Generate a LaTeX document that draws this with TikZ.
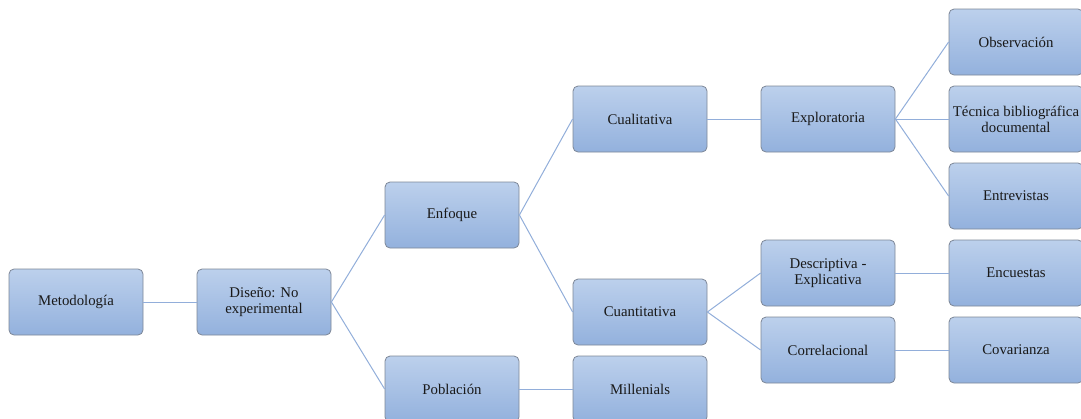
\documentclass[tikz,border=0pt]{standalone}
\usepackage{fontspec}
\setmainfont{Liberation Serif}
\begin{document}
\begin{tikzpicture}[x=1pt,y=-1pt,
  box/.style={draw=boxborder, line width=0.8pt, rounded corners=5pt, top color=boxtop, bottom color=boxbot,
    minimum width=134pt, minimum height=66pt, inner sep=2pt, align=center, font=\fontsize{14.8}{16}\selectfont, text=black!90},
  conn/.style={draw=linecol, line width=1pt}]
\definecolor{boxtop}{HTML}{BCD0EC}
\definecolor{boxbot}{HTML}{93B1DD}
\definecolor{boxborder}{HTML}{7D8797}
\definecolor{linecol}{HTML}{92AEDA}
\useasboundingbox (0,0) rectangle (1081,418);
\node[box] (met) at (76,302) {Metodología};
\node[box] (dis) at (264,302) {Diseño: No\\experimental};
\node[box] (enf) at (452,215) {Enfoque};
\node[box] (pob) at (452,389) {Población};
\node[box] (cual) at (640,119) {Cualitativa};
\node[box] (cuan) at (640,312) {Cuantitativa};
\node[box] (mil) at (640,389) {Millenials};
\node[box] (exp) at (828,119) {Exploratoria};
\node[box] (des) at (828,273) {Descriptiva -\\Explicativa};
\node[box] (cor) at (828,350) {Correlacional};
\node[box] (obs) at (1016,42) {Observación};
\node[box] (tec) at (1016,119) {Técnica bibliográfica\\documental};
\node[box] (ent) at (1016,196) {Entrevistas};
\node[box] (enc) at (1016,273) {Encuestas};
\node[box] (cov) at (1016,350) {Covarianza};
\draw[conn] (met.east) -- (dis.west);
\draw[conn] (dis.east) -- (enf.west);
\draw[conn] (dis.east) -- (pob.west);
\draw[conn] (enf.east) -- (cual.west);
\draw[conn] (enf.east) -- (cuan.west);
\draw[conn] (pob.east) -- (mil.west);
\draw[conn] (cual.east) -- (exp.west);
\draw[conn] (cuan.east) -- (des.west);
\draw[conn] (cuan.east) -- (cor.west);
\draw[conn] (exp.east) -- (obs.west);
\draw[conn] (exp.east) -- (tec.west);
\draw[conn] (exp.east) -- (ent.west);
\draw[conn] (des.east) -- (enc.west);
\draw[conn] (cor.east) -- (cov.west);
\end{tikzpicture}
\end{document}
